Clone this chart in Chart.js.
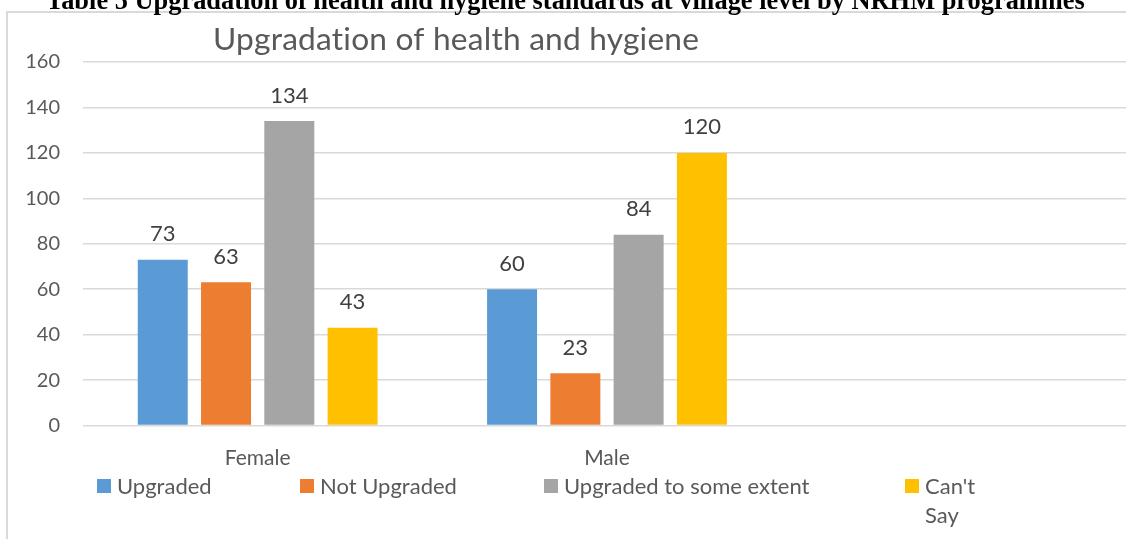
<!DOCTYPE html>
<html>
<head>
<meta charset="utf-8">
<script src="https://cdn.jsdelivr.net/npm/chart.js@4.4.0/dist/chart.umd.min.js"></script>
<style>
html, body { margin: 0; padding: 0; background: #fff; overflow: hidden; }
#frame { position: absolute; left: 6px; top: 11px; width: 1200px; height: 600px; border: 2px solid #d9d9d9; box-sizing: border-box; }
#wrap { position: absolute; left: 0; top: 0; width: 1160px; height: 539px; }
</style>
</head>
<body>
<div id="frame"></div>
<div id="wrap"><canvas id="chart" width="1160" height="539"></canvas></div>
<script>
/**
 * Chart data
 */
const captionText = 'Table 5 Upgradation of health and hygiene standards at village level by NRHM programmes';
const chartTitle = 'Upgradation of health and hygiene';
const categories = ['Female', 'Male', ''];
const seriesNames = ['Upgraded', 'Not Upgraded', 'Upgraded to some extent', "Can't Say"];
const upgraded = [73, 60, null];
const notUpgraded = [63, 23, null];
const someExtent = [134, 84, null];
const cantSay = [43, 120, null];
const yTicks = [0, 20, 40, 60, 80, 100, 120, 140, 160];

const seriesColors = ['#5b9bd5', '#ed7d31', '#a5a5a5', '#ffc000'];
const font = 'Lato';

// legend item positions
const legendX = [97, 300, 544, 905];
const legendMaxText = [180, 220, 340, 70];

//draws caption, title, value labels and the legend
const extrasPlugin = {
    id: 'extras',
    afterDatasetsDraw(chart) {
        const ctx = chart.ctx;
        ctx.save();

        // value labels above bars
        ctx.fillStyle = '#404040';
        ctx.font = '22px ' + font;
        ctx.textAlign = 'center';
        ctx.textBaseline = 'alphabetic';
        chart.data.datasets.forEach((ds, i) => {
            chart.getDatasetMeta(i).data.forEach((bar, j) => {
                if (ds.data[j] == null) return;
                ctx.fillText(String(ds.data[j]), bar.x, bar.y - 18.5);
            });
        });

        // caption above the chart box
        ctx.fillStyle = '#000';
        ctx.font = 'bold 26.4px "Liberation Serif"';
        ctx.textAlign = 'left';
        ctx.fillText(captionText, 46, 9);

        // chart title (tiny letter spacing keeps Lato from joining "ti")
        ctx.fillStyle = '#595959';
        ctx.font = '31.7px ' + font;
        ctx.letterSpacing = '0.2px';
        ctx.fillText(chartTitle, 213, 50);
        ctx.letterSpacing = '0px';

        // legend
        ctx.font = '22px ' + font;
        chart.data.datasets.forEach((ds, i) => {
            const x = legendX[i];
            ctx.fillStyle = ds.backgroundColor;
            ctx.fillRect(x, 479, 14, 14);
            ctx.fillStyle = '#595959';
            // simple word wrap
            const words = ds.label.split(' ');
            let lines = [];
            let line = '';
            words.forEach(w => {
                const test = line ? line + ' ' + w : w;
                if (ctx.measureText(test).width > legendMaxText[i] && line) {
                    lines.push(line);
                    line = w;
                } else {
                    line = test;
                }
            });
            lines.push(line);
            lines.forEach((l, k) => ctx.fillText(l, x + 20, 494 + k * 29));
        });
        ctx.restore();
    }
};

const chartData = {
    labels: categories,
    datasets: [upgraded, notUpgraded, someExtent, cantSay].map((values, i) => ({
        label: seriesNames[i],
        data: values,
        backgroundColor: seriesColors[i],
        borderWidth: 0,
        categoryPercentage: 0.7245,
        barPercentage: 0.79
    }))
};

const chartConfig = {
    type: 'bar',
    data: chartData,
    plugins: [extrasPlugin],
    options: {
        responsive: false,
        animation: false,
        layout: {
            padding: { left: 0, top: 62, right: 29, bottom: 63.5 }
        },
        plugins: {
            legend: { display: false },
            title: { display: false },
            tooltip: { enabled: false }
        },
        scales: {
            y: {
                min: 0,
                max: 160,
                afterBuildTicks: scale => { scale.ticks = yTicks.map(v => ({ value: v })); },
                afterFit: scale => { scale.width = 83; },
                ticks: {
                    padding: 23,
                    color: '#595959',
                    font: { family: font, size: 20 }
                },
                grid: { color: '#d9d9d9', lineWidth: 1.5, drawTicks: false },
                border: { display: false }
            },
            x: {
                afterFit: scale => { scale.height = 50; },
                ticks: {
                    padding: 20,
                    color: '#595959',
                    font: { family: font, size: 21 }
                },
                grid: { display: false, drawTicks: false },
                border: { display: false }
            }
        }
    }
};

const healthChart = new Chart(document.getElementById('chart'), chartConfig);
</script>
</body>
</html>
